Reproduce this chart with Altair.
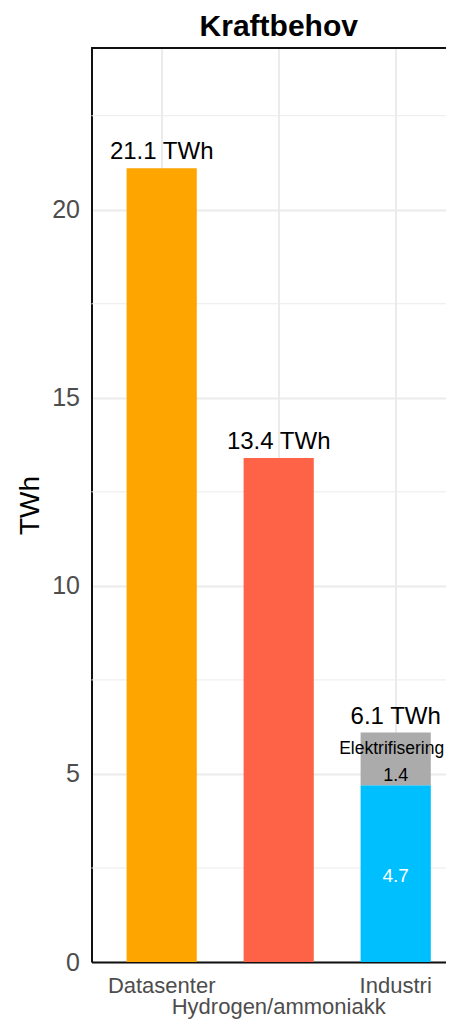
import altair as alt
import pandas as pd

# ---- data ----
categories = ["Datasenter", "Hydrogen/ammoniakk", "Industri", "Industri"]
segments = ["Datasenter", "Hydrogen/ammoniakk", "Industri", "Elektrifisering"]
values = [21.1, 13.4, 4.7, 1.4]
seg_colors = ["#FFA500", "#FF6347", "#00BFFF", "#ABABAB"]
category_order = ["Datasenter", "Hydrogen/ammoniakk", "Industri"]
major_ticks = [0, 5, 10, 15, 20]
minor_ticks = [2.5, 7.5, 12.5, 17.5, 22.5]

df = pd.DataFrame({"category": categories, "segment": segments, "value": values})
df["y1"] = df.groupby("category")["value"].cumsum()
df["y0"] = df["y1"] - df["value"]
df["mid"] = (df["y0"] + df["y1"]) / 2
df["vlabel"] = df["value"].map(lambda v: f"{v:.1f}")

tot = df.groupby("category", sort=False)["value"].sum().reset_index()
tot["label"] = tot["value"].map(lambda v: f"{v:.1f} TWh")

minor_df = pd.DataFrame({"v": minor_ticks})

FONT = "Liberation Sans"
W, H = 354.5, 914
RANGE_W = 374.4
PAD_TOP, PAD_BOTTOM, PAD_LEFT = 40, 57, 83.5

yscale = alt.Scale(domain=[0, 24.3], nice=False, zero=True)
xscale = alt.Scale(domain=category_order, range=[0, RANGE_W], paddingInner=0.4, paddingOuter=0.3)

x_enc = alt.X(
    "category:N",
    scale=xscale,
    sort=category_order,
    axis=alt.Axis(
        title=None,
        labelAngle=0,
        labelFont=FONT,
        labelFontSize=22,
        labelColor="#4D4D4D",
        labelPadding=13,
        labelBaseline="top",
        labelLineHeight=21,
        labelLimit=0,
        labelExpr="datum.value == 'Hydrogen/ammoniakk' ? ['', datum.value] : datum.value",
        ticks=False,
        tickSize=0,
        grid=True,
        gridColor="#EBEBEB",
        gridWidth=2,
        domainColor="#111111",
        domainWidth=2,
    ),
)

y_axis = alt.Axis(
    title="TWh",
    values=major_ticks,
    labelFont=FONT,
    labelFontSize=25,
    labelColor="#4D4D4D",
    labelPadding=12,
    ticks=False,
    tickSize=0,
    grid=True,
    gridColor="#EBEBEB",
    gridWidth=2,
    domainColor="#111111",
    domainWidth=2,
    titleFont=FONT,
    titleFontSize=28,
    titleFontWeight="normal",
    titleColor="#000000",
    titlePadding=7,
)

minor = alt.Chart(minor_df).mark_rule(color="#EBEBEB", strokeWidth=1).encode(
    y=alt.Y("v:Q", scale=yscale, axis=y_axis)
)

bars = alt.Chart(df).mark_bar().encode(
    x=x_enc,
    y=alt.Y("y0:Q", scale=yscale),
    y2="y1:Q",
    color=alt.Color("segment:N", scale=alt.Scale(domain=segments, range=seg_colors), legend=None),
)

totals = alt.Chart(tot).mark_text(
    font=FONT, fontSize=24, color="#000000", baseline="alphabetic", dy=-9
).encode(x=alt.X("category:N", sort=category_order), y=alt.Y("value:Q", scale=yscale), text="label:N")

ind = df[df["category"] == "Industri"]
elek = ind[ind["segment"] == "Elektrifisering"]
blue = ind[ind["segment"] == "Industri"]

elek_name = alt.Chart(elek).mark_text(
    font=FONT, fontSize=17.5, color="#000000", baseline="alphabetic", dy=-4.5, dx=-4
).encode(x=alt.X("category:N", sort=category_order), y=alt.Y("mid:Q", scale=yscale), text="segment:N")

elek_val = alt.Chart(elek).mark_text(
    font=FONT, fontSize=18, color="#000000", baseline="alphabetic", dy=22.5
).encode(x=alt.X("category:N", sort=category_order), y=alt.Y("mid:Q", scale=yscale), text="vlabel:N")

blue_val = alt.Chart(blue).mark_text(
    font=FONT, fontSize=19, color="#FFFFFF", baseline="alphabetic", dy=8.5
).encode(x=alt.X("category:N", sort=category_order), y=alt.Y("mid:Q", scale=yscale), text="vlabel:N")

top_border = alt.Chart(minor_df).mark_rule(color="#111111", strokeWidth=2).encode(
    x=alt.value(0), x2=alt.value(RANGE_W), y=alt.value(0)
)

chart = alt.layer(minor, bars, totals, elek_name, elek_val, blue_val, top_border).properties(
    width=W,
    height=H,
    autosize=alt.AutoSizeParams(type="none"),
    padding={"left": PAD_LEFT, "top": PAD_TOP, "right": 0, "bottom": PAD_BOTTOM},
    title=alt.TitleParams(
        "Kraftbehov", font=FONT, fontSize=30, fontWeight="bold", color="#000000",
        anchor="middle", frame="group", baseline="alphabetic", offset=16, dx=10, dy=35,
    ),
).configure_view(strokeWidth=0).configure(background="white")

chart.save("out.html", embed_options={"renderer": "svg", "actions": False})
